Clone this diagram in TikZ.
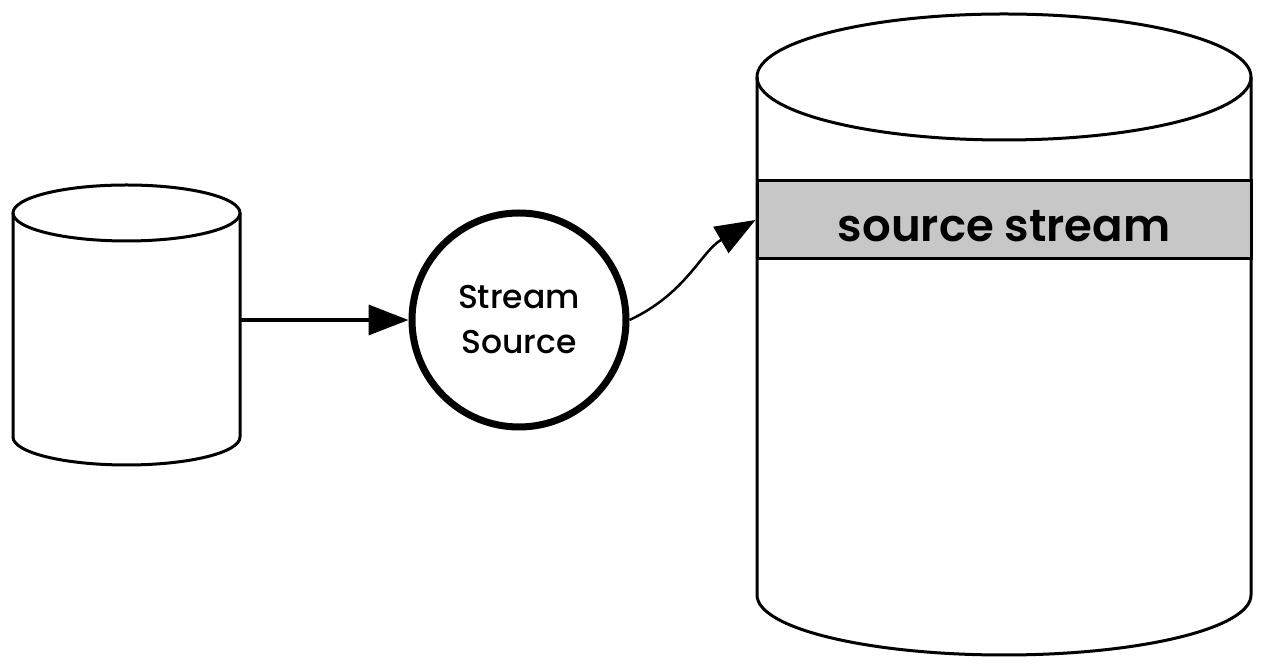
\documentclass[tikz,border=0pt]{standalone}
\usepackage{fontspec}
\setmainfont{Poppins}
\newfontfamily\medfont{Poppins Medium}
\newfontfamily\semifont{Poppins SemiBold}
\usetikzlibrary{
    arrows.meta,
}
\tikzstyle{drum} = [draw, line width=3pt]
\tikzstyle{proc} = [circle, draw, line width=7pt, minimum size=214pt,
    align=center, font=\fontsize{33}{45}\selectfont\medfont]
\tikzstyle{band} = [rectangle, draw, line width=3pt, fill=black!22,
    minimum width=494pt, minimum height=78pt, text height=44pt,
    font=\fontsize{45}{50}\selectfont\semifont]
\tikzstyle{line} = [draw, -{Triangle[length=40pt,width=30pt]}]

\begin{document}
\begin{tikzpicture}[x=1pt, y=1pt]
        \useasboundingbox (0,0) rectangle (1262,666);
        % Draw disks
        \draw [drum] (13,453) -- (13,229)
            arc [start angle=180, end angle=360, x radius=113.5, y radius=28]
            -- (240,453);
        \draw [drum] (126.5,453) ellipse [x radius=113.5, y radius=28];
        \draw [drum] (757,589) -- (757,71)
            arc [start angle=180, end angle=360, x radius=247, y radius=60]
            -- (1251,589);
        \draw [drum] (1004,589) ellipse [x radius=247, y radius=63];
        % Place nodes
        \coordinate (disk) at (240,346);
        \node [proc] (src) at (519,346) {Stream\\Source};
        \node [band] (stream) at (1004,446) {source stream};
        % Draw edges
        \path [line, line width=3.5pt] (disk) -- (src);
        \path [line, line width=2.5pt] (src.east) to [out=25, in=210] (stream.west);
    \end{tikzpicture}
\end{document}
